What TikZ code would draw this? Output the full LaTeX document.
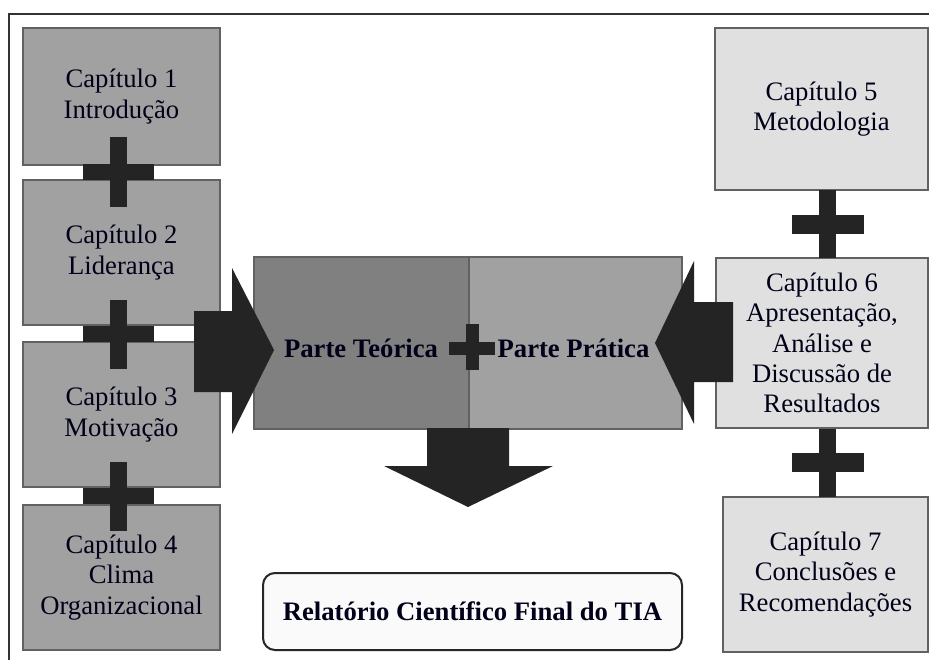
\documentclass[tikz,border=0pt]{standalone}
\usepackage{fontspec}
\setmainfont{Liberation Serif}
\begin{document}
\begin{tikzpicture}[x=0.75pt,y=-0.75pt,
  every node/.style={font=\fontsize{20}{22.8}\selectfont, text=black!90!blue, align=center, inner sep=0pt},
  boxbase/.style={draw=black!62, line width=1.5pt, rectangle},
  leftbox/.style={boxbase, fill=black!37, minimum width=147.75pt},
  rightbox/.style={boxbase, fill=black!12},
  darkfill/.style={fill=black!86, draw=none},
  bold/.style={font=\fontsize{20}{22.8}\selectfont\bfseries}
]
\useasboundingbox (0,0) rectangle (929,660);
\fill[white] (0,0) rectangle (929,660);
% frame
\draw[black!80, line width=1.1pt] (929,14) -- (9,14) -- (9,660);

% left chapter boxes
\node[leftbox, minimum height=102.75pt] (c1) at (121.5,96.5) {Capítulo 1\\Introdução};
\node[leftbox, minimum height=108.75pt] (c2) at (121.5,252.5) {Capítulo 2\\Liderança};
\node[leftbox, minimum height=108.75pt] (c3) at (121.5,414.5) {Capítulo 3\\Motivação};
\node[leftbox, minimum height=108.75pt] (c4) at (121.5,577.5) {Capítulo 4\\Clima\\Organizacional};

% right chapter boxes
\node[rightbox, minimum width=159.75pt, minimum height=121.5pt] (c5) at (821.5,109) {Capítulo 5\\Metodologia};
\node[rightbox, minimum width=159pt, minimum height=127.5pt] (c6) at (822,343) {Capítulo 6\\Apresentação,\\Análise e\\Discussão de\\Resultados};
\node[rightbox, minimum width=153.75pt, minimum height=116.25pt] (c7) at (825.5,574.5) {Capítulo 7\\Conclusões e\\Recomendações};

% central boxes
\node[boxbase, fill=black!50, minimum width=161.25pt, minimum height=129pt] (teo) at (361.5,343) {};
\node[boxbase, fill=black!37, minimum width=159.75pt, minimum height=129pt] (pra) at (575.5,343) {};
\node[bold] (teot) at (361,348) {Parte Teórica};
\node[bold] (prat) at (573.5,348) {Parte Prática};

% final box
\node[draw=black!85, line width=1.5pt, fill=black!2, rounded corners=9pt, minimum width=314.25pt, minimum height=57.75pt, bold] (fin) at (472.5,611.5) {Relatório Científico Final do TIA};

% plus signs
\foreach \cx/\cy in {118.5/172, 118.5/334, 118.5/496}{
  \fill[black!86] (\cx-8.5,\cy-34.5) rectangle (\cx+8.5,\cy+34.5);
  \fill[black!86] (\cx-35.5,\cy-8) rectangle (\cx+35.5,\cy+8);
}
\foreach \cx/\cy in {827.5/224, 827.5/462.5}{
  \fill[black!86] (\cx-8.5,\cy-34) rectangle (\cx+8.5,\cy+34);
  \fill[black!86] (\cx-36,\cy-9.5) rectangle (\cx+36,\cy+9.5);
}
\fill[black!86] (466,324) rectangle (479,370);
\fill[black!86] (449,342) rectangle (495,355);

% block arrows
\fill[black!86] (194,311) -- (232,311) -- (232,268) -- (274,350) -- (232,434) -- (232,392) -- (194,392) -- cycle;
\fill[black!86] (733,302) -- (694,302) -- (694,261) -- (655,343) -- (694,424) -- (694,382) -- (733,382) -- cycle;
\fill[black!86] (427,428) -- (509,428) -- (509,466) -- (553,466) -- (468,507) -- (384,466) -- (427,466) -- cycle;
\end{tikzpicture}
\end{document}
